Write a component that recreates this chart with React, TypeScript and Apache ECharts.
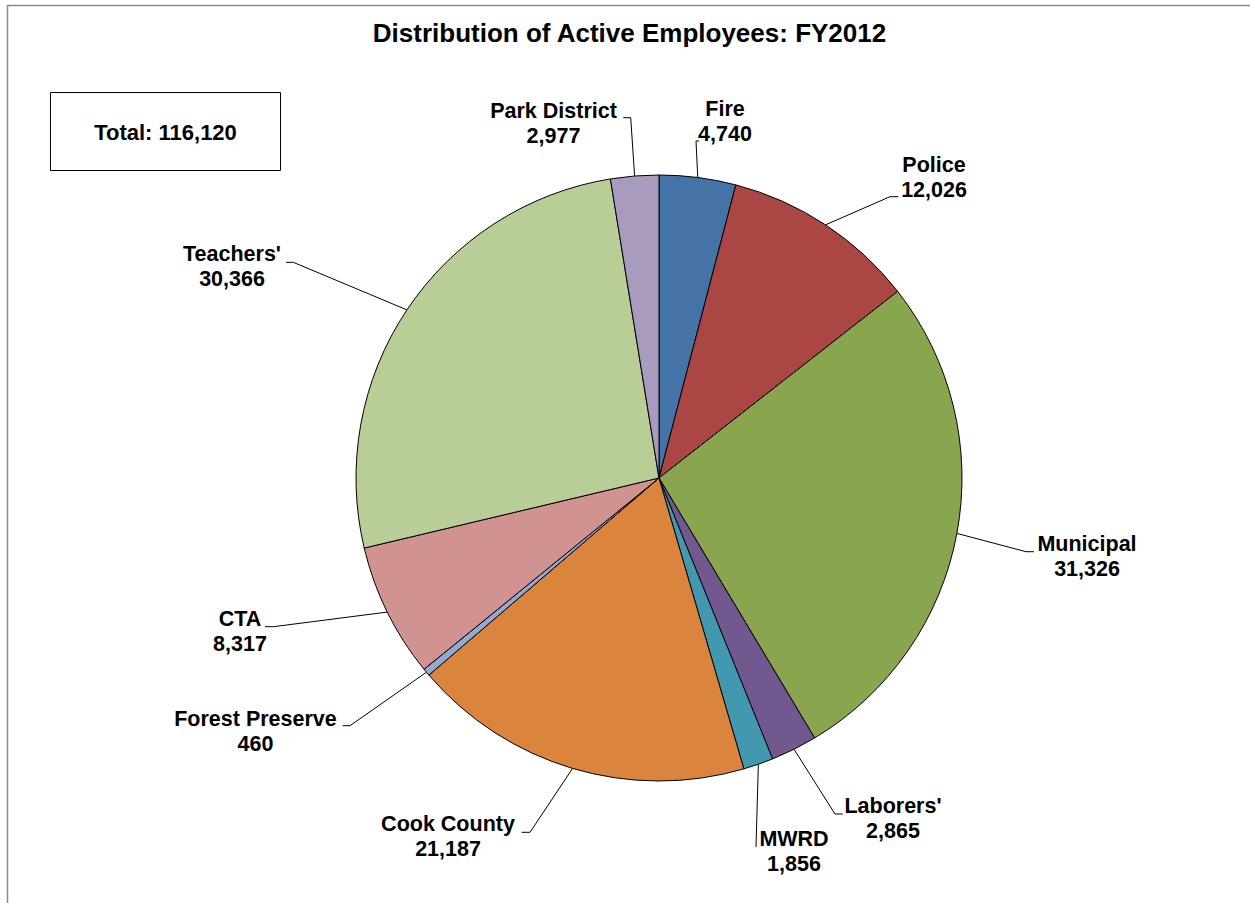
import React, { useEffect, useRef } from 'react';
import * as echarts from 'echarts';

// ---- Data ----
const categories = ['Fire', 'Police', 'Municipal', "Laborers'", 'MWRD', 'Cook County', 'Forest Preserve', 'CTA', "Teachers'", 'Park District'];
const employees = [4740, 12026, 31326, 2865, 1856, 21187, 460, 8317, 30366, 2977];
const titleText = 'Distribution of Active Employees: FY2012';

// ---- Styles / layout ----
const sliceColors = ['#4572A7', '#AA4643', '#89A54E', '#71588F', '#4198AF', '#DB843D', '#93A9CF', '#D19392', '#B9CD96', '#A99BBD'];
const PIE_CENTER = [659, 478];
const PIE_RADIUS = 303;
const FONT = '"Liberation Sans", Arial, Helvetica, sans-serif';
// label block centers (layout)
const labelCenters: number[][] = [
  [725, 121.7],
  [934, 177.8],
  [1087, 556.5],
  [893, 818.5],
  [794, 851.7],
  [448, 836.6],
  [255.5, 731.2],
  [240, 631.5],
  [232, 266.3],
  [553.5, 123.4],
];
// leader line elbow + end point (layout)
const leaderElbows: number[][][] = [
  [[696, 141], [699, 141]],
  [[890, 196.7], [898.3, 196.7]],
  [[1026, 551.7], [1034, 551.7]],
  [[835, 814], [842.7, 814]],
  [[756, 846.7], [756.5, 846.7]],
  [[530, 832.3], [521.7, 832.3]],
  [[350, 725.7], [342.7, 725.7]],
  [[273.3, 626.7], [265, 626.7]],
  [[293.3, 262.3], [286, 262.3]],
  [[630.7, 117.7], [623.3, 117.7]],
];

const fmt = (v: number) => v.toLocaleString('en-US');

export default function App() {
  const ref = useRef<HTMLDivElement>(null);
  useEffect(() => {
    if (!ref.current) return;
    const chart = echarts.init(ref.current, undefined, { renderer: 'svg' });
    const total = employees.reduce((a, b) => a + b, 0);
    const edgePoint = (i: number) => {
      let before = 0;
      for (let k = 0; k < i; k++) before += employees[k];
      const a = ((before + employees[i] / 2) / total) * Math.PI * 2;
      return [PIE_CENTER[0] + PIE_RADIUS * Math.sin(a), PIE_CENTER[1] - PIE_RADIUS * Math.cos(a)];
    };
    chart.setOption({
      animation: false,
      backgroundColor: '#ffffff',
      graphic: [
        {
          type: 'rect',
          shape: { x: 7.5, y: 5.5, width: 1300, height: 1000 },
          style: { fill: 'none', stroke: '#8a8a8a', lineWidth: 1.5 },
          silent: true,
        },
        {
          type: 'text',
          x: 629.5,
          y: 33,
          style: {
            text: titleText,
            fill: '#000',
            font: `bold 26px ${FONT}`,
            align: 'center',
            verticalAlign: 'middle',
          },
        },
        {
          type: 'rect',
          shape: { x: 50.5, y: 92.5, width: 230, height: 78 },
          style: { fill: '#fff', stroke: '#000', lineWidth: 1 },
        },
        {
          type: 'text',
          x: 165.5,
          y: 132.5,
          style: {
            text: 'Total: ' + fmt(total),
            fill: '#000',
            font: `bold 22px ${FONT}`,
            align: 'center',
            verticalAlign: 'middle',
          },
        },
      ],
      series: [
        {
          type: 'pie',
          center: PIE_CENTER,
          radius: PIE_RADIUS,
          startAngle: 90,
          clockwise: true,
          avoidLabelOverlap: false,
          silent: true,
          itemStyle: { borderColor: '#000', borderWidth: 1 },
          label: {
            show: true,
            position: 'outside',
            formatter: (p: any) => `${p.name}\n${fmt(p.value)}`,
            color: '#000',
            fontFamily: FONT,
            fontWeight: 'bold',
            fontSize: 21.5,
            lineHeight: 25,
            align: 'center',
          },
          labelLine: { show: true, length: 20, length2: 8, lineStyle: { color: '#000', width: 1 } },
          labelLayout: (p: any) => {
            const i = p.dataIndex;
            const c = labelCenters[i];
            const e = leaderElbows[i];
            return {
              x: c[0],
              y: c[1],
              align: 'center',
              verticalAlign: 'middle',
              labelLinePoints: [edgePoint(i), e[0], e[1]],
            };
          },
          data: categories.map((name, i) => ({
            name,
            value: employees[i],
            itemStyle: { color: sliceColors[i] },
          })),
        },
      ],
    });
    return () => chart.dispose();
  }, []);
  return (
    <div
      ref={ref}
      style={{ position: 'absolute', left: 0, top: 0, width: 1250, height: 903, background: '#fff' }}
    />
  );
}
